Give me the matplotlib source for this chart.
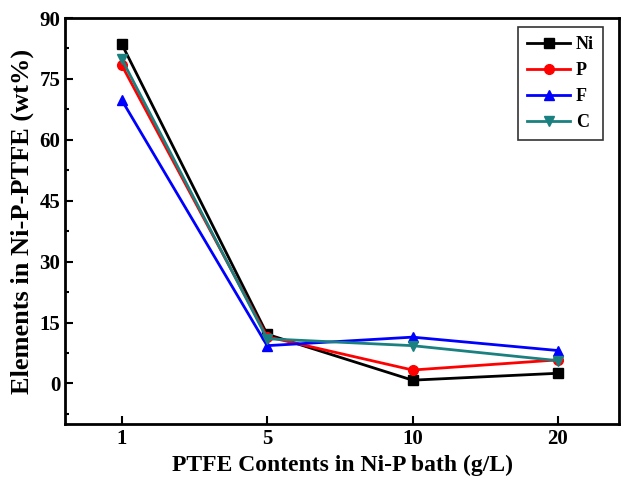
import matplotlib

matplotlib.use("Agg")
import matplotlib.pyplot as plt
from matplotlib.ticker import MultipleLocator

plt.rcParams["font.family"] = ["Liberation Serif", "DejaVu Serif"]
plt.rcParams["font.weight"] = "bold"

categories = ["1", "5", "10", "20"]
ni = [83.6, 12.1, 0.8, 2.5]
p = [78.4, 11.5, 3.3, 5.8]
f = [69.8, 9.3, 11.4, 8.1]
c = [79.9, 11.0, 9.3, 5.6]

series = [
    ("Ni", ni, "black", "s"),
    ("P", p, "red", "o"),
    ("F", f, "blue", "^"),
    ("C", c, "#1a8080", "v"),
]

fig = plt.figure(figsize=(6.21, 4.88), dpi=100)
ax = fig.add_axes([0.1047, 0.1311, 0.8921, 0.8320])
x = range(len(categories))
for name, vals, col, mk in series:
    ax.plot(x, vals, color=col, marker=mk, markersize=7, linewidth=2, label=name)

ax.set_xlim(-0.39, 3.42)
ax.set_ylim(-10, 90)
ax.set_xticks(list(x))
ax.set_xticklabels(categories)
ax.yaxis.set_major_locator(MultipleLocator(15))
ax.yaxis.set_minor_locator(MultipleLocator(7.5))
ax.tick_params(direction="in", labelsize=15, width=1.5, length=6)
ax.tick_params(which="minor", direction="in", width=1.5, length=3)
for s in ax.spines.values():
    s.set_linewidth(2)

ax.set_xlabel("PTFE Contents in Ni-P bath (g/L)", fontsize=17, fontweight="bold")
ax.set_ylabel("Elements in Ni-P-PTFE (wt%)", fontsize=19, fontweight="bold")

leg = ax.legend(loc="upper right", bbox_to_anchor=(0.971, 0.978), borderaxespad=0,
                fontsize=13, fancybox=False, edgecolor="black",
                handlelength=2.4, handletextpad=0.3, borderpad=0.5, labelspacing=0.5)
leg.get_frame().set_linewidth(1.2)

fig.savefig("out.png", dpi=100)
